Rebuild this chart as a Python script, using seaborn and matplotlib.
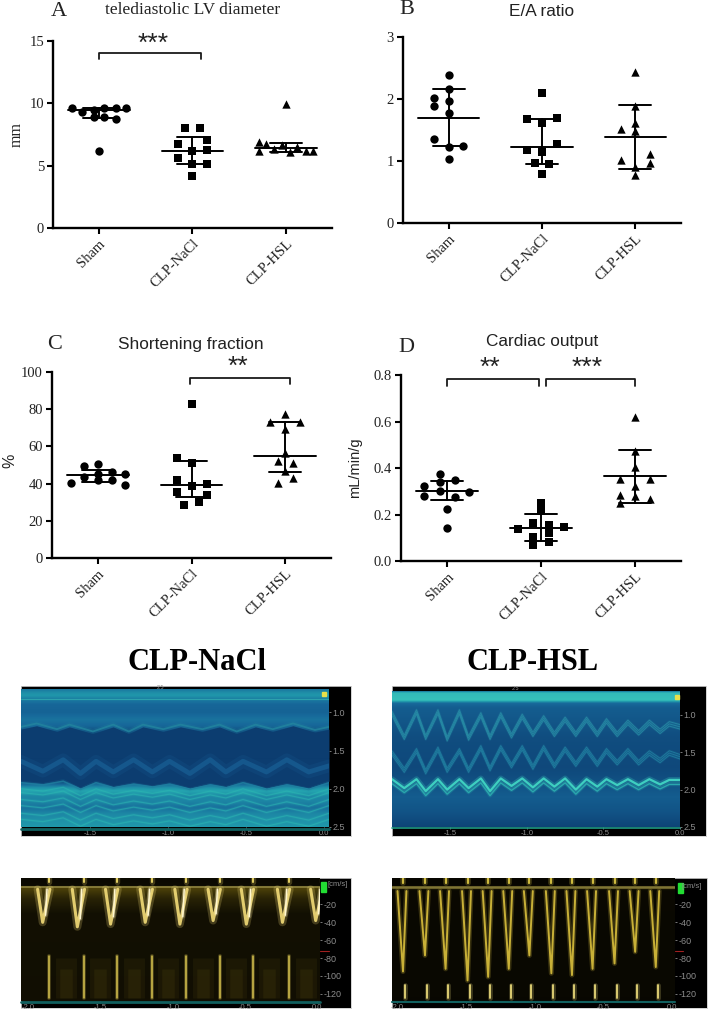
import numpy as np
import matplotlib
matplotlib.use('Agg')
import matplotlib.pyplot as plt
from matplotlib.colors import LinearSegmentedColormap
from matplotlib.patches import Rectangle
import seaborn as sns

sns.set_style('white')
plt.rcParams['font.family'] = ['Liberation Serif', 'DejaVu Serif']

W, H = 709, 1010
groups = ['Sham', 'CLP-NaCl', 'CLP-HSL']
markers = ['o', 's', '^']
marker_sizes = [36, 30, 36]

# A telediastolic LV diameter
a_values = [[9.64, 9.32, 9.48, 9.59, 9.59, 9.59, 8.87, 8.92, 8.71, 6.19],
            [8.06, 8.06, 7.05, 6.70, 6.19, 6.24, 5.65, 5.12, 5.17, 4.21],
            [6.91, 6.72, 6.35, 6.67, 6.11, 6.48, 6.16, 6.21, 6.19, 9.94]]
a_jitter = [[-.29, -.175, -.057, .06, .18, .295, -.057, .06, .18, 0],
            [-.08, .08, .16, -.16, 0, .16, -.16, 0, .16, 0],
            [-.29, -.21, -.13, -.04, .04, .12, .21, .29, -.29, 0]]
a_mean = [9.43, 6.2, 6.45]
a_hi = [9.6, 7.31, 6.83]
a_lo = [8.84, 5.17, 6.1]

# B E/A ratio
b_values = [[2.38, 2.16, 2.02, 1.97, 1.89, 1.78, 1.35, 1.25, 1.23, 1.04],
            [2.09, 1.67, 1.69, 1.62, 1.27, 1.18, 1.15, .96, .95, .79],
            [2.43, 1.88, 1.62, 1.51, 1.48, 1.11, 1.02, .97, .90, .78]]
b_jitter = [[0, 0, -.157, 0, -.157, 0, -.157, .157, 0, 0],
            [0, -.157, .16, 0, .16, -.157, 0, -.08, .08, 0],
            [0, 0, 0, -.157, 0, .157, -.157, .157, 0, 0]]
b_mean = [1.70, 1.23, 1.39]
b_hi = [2.16, 1.68, 1.90]
b_lo = [1.25, .95, .87]

# C shortening fraction
c_values = [[40.2, 49.2, 50.6, 43.6, 45.1, 46.2, 44.9, 41.7, 42.2, 39.0],
            [83.0, 53.7, 51.0, 41.7, 39.7, 38.5, 35.4, 33.8, 29.9, 28.3],
            [77.3, 73.0, 73.3, 69.6, 56.7, 52.4, 51.2, 46.9, 42.9, 40.4]]
c_jitter = [[-.29, -.147, 0, -.147, 0, .147, .295, 0, .147, .295],
            [0, -.157, 0, -.157, .165, 0, -.157, .165, .08, -.08],
            [0, -.157, .16, 0, 0, -.08, .08, 0, .08, -.08]]
c_mean = [44.4, 39.2, 55.1]
c_hi = [47.4, 51.9, 73.3]
c_lo = [41.1, 32.9, 46.2]

# D cardiac output
d_values = [[.375, .348, .341, .321, .302, .295, .278, .274, .225, .142],
            [.248, .216, .162, .156, .136, .148, .119, .102, .08, .067],
            [.618, .472, .404, .351, .351, .321, .282, .278, .268, .249]]
d_jitter = [[-.08, .08, -.08, -.245, -.08, .235, -.245, .08, 0, 0],
            [0, 0, -.08, .08, -.245, .24, .08, -.08, .08, -.08],
            [0, 0, 0, -.16, .157, 0, -.16, 0, .157, -.16]]
d_mean = [.301, .143, .364]
d_hi = [.344, .201, .477]
d_lo = [.262, .087, .249]

# M-mode traces, depth in mm against time in s
nacl_depth = [.70, .74, .78, .83, .90, 1.0, 1.1, 1.18, 1.3, 1.9, 1.98, 2.03, 2.1, 2.17, 2.25, 2.33, 2.42, 2.5]
nacl_level = [.42, .55, .62, .45, .32, .30, .40, .32, .05, .05, .55, .70, .52, .50, .38, .52, .58, .62]
nacl_top_t = [-1.94, -1.84, -1.71, -1.63, -1.48, -1.35, -1.25, -1.16, -1.03, -.92, -.78, -.67, -.56, -.44, -.33, -.20, -.06, .03]
nacl_top_d = [1.22, 1.175, 1.25, 1.19, 1.28, 1.19, 1.28, 1.19, 1.25, 1.19, 1.25, 1.19, 1.28, 1.19, 1.25, 1.175, 1.26, 1.22]
nacl_low_t = [-1.94, -1.80, -1.67, -1.56, -1.46, -1.35, -1.22, -1.10, -.99, -.86, -.73, -.63, -.52, -.37, -.24, -.10, .03]
nacl_low_d = [1.90, 1.93, 1.88, 1.99, 1.90, 1.97, 1.92, 1.96, 1.92, 1.99, 1.93, 1.97, 1.90, 1.99, 1.93, 1.99, 1.90]
nacl_mid_d = [1.64, 1.77, 1.62, 1.80, 1.64, 1.78, 1.62, 1.78, 1.64, 1.80, 1.62, 1.78, 1.64, 1.78, 1.62, 1.78, 1.70]
nacl_echo = [.10, .15, .24, .32, .42, .50]

hsl_depth = [.68, .70, .80, .84, .90, 1.0, 1.3, 1.7, 1.82, 2.1, 2.3, 2.5]
hsl_level = [.40, .82, .86, .34, .26, .24, .16, .13, .16, .26, .20, .10]
hsl_wall_t = [-1.88, -1.80, -1.72, -1.66, -1.58, -1.52, -1.44, -1.38, -1.30, -1.24, -1.17, -1.10, -1.03, -.96, -.89, -.82, -.75, -.68, -.61, -.54, -.48, -.41, -.34, -.27, -.20, -.13, -.07, 0]
hsl_wall_d = [1.86, 1.98, 1.86, 2.02, 1.86, 2.00, 1.86, 1.98, 1.85, 2.02, 1.85, 1.95, 1.85, 1.97, 1.85, 1.96, 1.85, 2.00, 1.86, 1.96, 1.86, 1.94, 1.86, 1.94, 1.86, 1.93, 1.87, 1.87]
hsl_sept_d = [1.45, 1.68, 1.42, 1.70, 1.40, 1.68, 1.42, 1.68, 1.38, 1.66, 1.38, 1.62, 1.38, 1.64, 1.38, 1.62, 1.40, 1.60, 1.40, 1.60, 1.42, 1.58, 1.42, 1.58, 1.45, 1.55, 1.45, 1.5]
hsl_free_d = [.92, 1.24, .90, 1.24, .90, 1.26, .90, 1.25, .94, 1.24, .94, 1.22, .96, 1.20, .98, 1.20, 1.0, 1.2, 1.0, 1.2, 1.02, 1.2, 1.04, 1.18, 1.04, 1.16, 1.06, 1.1]
hsl_echo = [.03, .06, .09]

# Doppler traces, velocity in cm/s against time in s
nacl_beats = [-1.90, -1.66, -1.43, -1.19, -.95, -.72, -.49, -.24, -.01]
nacl_peaks = [-40, -45, -42, -40, -42, -38, -42, -40, -38]
hsl_beats = [-1.98, -1.82, -1.67, -1.51, -1.36, -1.21, -1.06, -.90, -.75, -.60, -.44, -.29, -.14]
hsl_peaks = [-95, -77, -92, -105, -101, -92, -77, -97, -99, -92, -86, -73, -90]
nacl_bg_v = [9.6, 1, 0, -2, -14, -30, -128]
nacl_bg_level = [.08, .10, .50, .50, .30, .14, .13]
hsl_bg_v = [9.6, 1, 0, -4, -128]
hsl_bg_level = [.05, .05, .45, .08, .07]

ultra = LinearSegmentedColormap.from_list('ultra', ['#0a3568', '#17689a', '#22a0ae', '#45d8c4'])
olive = LinearSegmentedColormap.from_list('olive', ['#000000', '#2c2606', '#6b5a0c', '#a08c28'])
tick_labels_t = ['-1.5', '-1.0', '-0.5', '0.0']
tick_labels_d = ['1.0', '1.5', '2.0', '2.5']
tick_labels_v = ['-20', '-40', '-60', '-80', '-100', '-120']


def px_axes(fig, x0, x1, top, bottom):
    return fig.add_axes([x0 / W, 1 - bottom / H, (x1 - x0) / W, (bottom - top) / H])


def fig_text(fig, x, y, s, **kw):
    fig.text(x / W, 1 - y / H, s, ha='center', va='center', **kw)


def scatter_panel(ax, values, jitter, mean, hi, lo, yticks, ticklabels):
    for i in range(3):
        xs = [i + j for j in jitter[i]]
        sns.scatterplot(x=xs, y=values[i], marker=markers[i], color='black', s=marker_sizes[i], linewidth=0, ax=ax, zorder=3, clip_on=False)
        ax.plot([i - .33, i + .33], [mean[i], mean[i]], color='black', lw=1.4)
        ax.plot([i - .17, i + .17], [hi[i], hi[i]], color='black', lw=1.4)
        ax.plot([i - .17, i + .17], [lo[i], lo[i]], color='black', lw=1.4)
        ax.plot([i, i], [lo[i], hi[i]], color='black', lw=1.4)
    ax.set_xlim(-.49, 2.49)
    ax.set_ylim(yticks[0], yticks[-1])
    ax.set_xticks(range(3))
    ax.set_xticklabels(groups, rotation=45, ha='right', rotation_mode='anchor', fontsize=10.5, color='#222222')
    ax.set_yticks(yticks)
    ax.set_yticklabels(ticklabels, fontsize=10.5, color='#222222')
    ax.tick_params(axis='both', length=4.5, width=1.5, color='black', left=True, bottom=True, pad=2)
    sns.despine(ax=ax)
    for side in ['left', 'bottom']:
        ax.spines[side].set_linewidth(1.7)
        ax.spines[side].set_color('black')


def bracket(ax, x0, x1, top, bottom, stars, star_x, star_y):
    ax.plot([x0, x0, x1, x1], [bottom, top, top, bottom], color='#1a1a1a', lw=1.3, clip_on=False)
    ax.text(star_x, star_y, stars, ha='center', va='center', fontsize=19, color='#222222',
            family='Liberation Sans', clip_on=False)


def trace_frame(fig, outer, inner, xlim, ylim, xticks, yticks, xlabels, ylabels):
    back = px_axes(fig, *outer)
    back.set_facecolor('black')
    back.set_xticks([])
    back.set_yticks([])
    for s in back.spines.values():
        s.set_color('#cccccc')
        s.set_linewidth(.6)
    ax = px_axes(fig, *inner)
    ax.set_xlim(*xlim)
    ax.set_ylim(*ylim)
    ax.yaxis.tick_right()
    ax.set_xticks(xticks)
    ax.set_xticklabels(xlabels, fontsize=5.5, color='#8c8c8c', family='Liberation Sans')
    ax.set_yticks(yticks)
    ax.set_yticklabels(ylabels, fontsize=6.5, color='#8c8c8c', family='Liberation Sans')
    ax.tick_params(axis='both', length=1.5, width=.6, color='#8c8c8c', pad=1, right=True, bottom=True, left=False)
    for s in ax.spines.values():
        s.set_visible(False)
    return ax


def level_background(ax, edges, level, xlim, cmap):
    # edges run from the top of the trace to the bottom
    grid = np.linspace(0, 1, 300)
    frac = [(e - edges[0]) / (edges[-1] - edges[0]) for e in edges]
    ax.imshow(np.interp(grid, frac, level)[:, None], cmap=cmap, vmin=0, vmax=1, aspect='auto',
              interpolation='bilinear', origin='upper', extent=[xlim[0], xlim[1], edges[-1], edges[0]], zorder=0)


def soft_line(ax, x, y, color, lw, alpha=1, zorder=2):
    ax.plot(x, y, color=color, lw=lw * 2.6, alpha=.25 * alpha, zorder=zorder, solid_joinstyle='round')
    ax.plot(x, y, color=color, lw=lw, alpha=alpha, zorder=zorder, solid_joinstyle='round')


fig = plt.figure(figsize=(W / 100, H / 100), dpi=100)
fig.patch.set_facecolor('white')

# top scatter panels
ax_a = px_axes(fig, 53, 332, 41, 228)
scatter_panel(ax_a, a_values, a_jitter, a_mean, a_hi, a_lo, [0, 5, 10, 15], ['0', '5', '10', '15'])
bracket(ax_a, 0, 1.09, 14.06, 13.53, '***', .58, 14.75)
ax_a.set_ylabel('mm', fontsize=11.5, color='#222222')
ax_a.yaxis.set_label_coords(-.10, .5)

ax_b = px_axes(fig, 403, 681, 37, 223)
scatter_panel(ax_b, b_values, b_jitter, b_mean, b_hi, b_lo, [0, 1, 2, 3], ['0', '1', '2', '3'])

ax_c = px_axes(fig, 52, 331, 372, 558)
scatter_panel(ax_c, c_values, c_jitter, c_mean, c_hi, c_lo, [0, 20, 40, 60, 80, 100], ['0', '20', '40', '60', '80', '100'])
bracket(ax_c, .987, 2.05, 97, 93.4, '**', 1.5, 103)
ax_c.set_ylabel('%', fontsize=11.5, fontfamily='Liberation Sans', color='#222222')
ax_c.yaxis.set_label_coords(-.125, .52)

ax_d = px_axes(fig, 401, 681, 375, 561)
scatter_panel(ax_d, d_values, d_jitter, d_mean, d_hi, d_lo, [0, .2, .4, .6, .8], ['0.0', '0.2', '0.4', '0.6', '0.8'])
bracket(ax_d, 0, .975, .783, .754, '**', .46, .83)
bracket(ax_d, 1.054, 1.996, .783, .754, '***', 1.49, .83)
ax_d.set_ylabel('mL/min/g', fontsize=10.5, fontfamily='Liberation Sans', color='#222222')
ax_d.yaxis.set_label_coords(-.139, .5)

fig_text(fig, 59, 12, 'A', fontsize=16, color='#222222')
fig_text(fig, 193, 10, 'telediastolic LV diameter', fontsize=12.5, color='#222222')
fig_text(fig, 407, 10, 'B', fontsize=16, color='#222222')
fig_text(fig, 542, 11, 'E/A ratio', fontsize=12.4, family='Liberation Sans', color='#222222')
fig_text(fig, 55, 344, 'C', fontsize=16, color='#222222')
fig_text(fig, 191, 344, 'Shortening fraction', fontsize=12.4, family='Liberation Sans', color='#222222')
fig_text(fig, 406, 347, 'D', fontsize=16, color='#222222')
fig_text(fig, 542, 341, 'Cardiac output', fontsize=12.4, family='Liberation Sans', color='#222222')
fig_text(fig, 197, 662, 'CLP-NaCl', fontsize=22, fontweight='bold', color='black')
fig_text(fig, 533, 663, 'CLP-HSL', fontsize=22, fontweight='bold', color='black')

# M-mode CLP-NaCl
xlim = (-1.94, .03)
ylim = (2.5, .694)
ax = trace_frame(fig, (21, 351, 686, 836), (21, 329, 689, 827), xlim, ylim,
                 [-1.5, -1.0, -.5, 0], [1, 1.5, 2, 2.5], tick_labels_t, tick_labels_d)
level_background(ax, nacl_depth, nacl_level, xlim, ultra)
ax.fill_between(nacl_top_t, nacl_top_d, 1.6, color='#0c3d70', lw=0, zorder=1)
ax.fill_between(nacl_low_t, 1.6, nacl_low_d, color='#0c3d70', lw=0, zorder=1)
soft_line(ax, nacl_low_t, nacl_mid_d, '#15578c', 3.5)
soft_line(ax, nacl_top_t, [d - .03 for d in nacl_top_d], '#22869f', 1.3, .8)
soft_line(ax, nacl_low_t, [d + .02 for d in nacl_low_d], '#1f7f9f', 1.1, .8)
for shift in nacl_echo:
    soft_line(ax, nacl_low_t, [d + shift for d in nacl_low_d], '#2cb7b3', .9, .55)
ax.plot(xlim, [.83, .83], color='#3fc9bb', lw=.8, alpha=.5, zorder=2)
ax.plot([0], [.76], marker='s', ms=2.5, color='#e6e04a', zorder=4)
ax.axhline(2.52, color='#11605f', lw=2, clip_on=False)
ax.set_xlim(*xlim)
ax.set_ylim(*ylim)
fig_text(fig, 160, 687.5, '2.5', fontsize=4, color='#8c8c8c', family='Liberation Sans')

# M-mode CLP-HSL
xlim = (-1.88, 0)
ylim = (2.5, .68)
ax = trace_frame(fig, (392, 706, 686, 836), (392, 680, 691, 827), xlim, ylim,
                 [-1.5, -1.0, -.5, 0], [1, 1.5, 2, 2.5], tick_labels_t, tick_labels_d)
level_background(ax, hsl_depth, hsl_level, xlim, ultra)
soft_line(ax, hsl_wall_t, hsl_wall_d, '#3ecfc0', 1.6, zorder=3)
soft_line(ax, hsl_wall_t, [d + .06 for d in hsl_wall_d], '#2aa7ad', 1.0, zorder=3)
for shift in hsl_echo:
    soft_line(ax, hsl_wall_t, [d + shift for d in hsl_sept_d], '#2387a6', .7, .7)
    soft_line(ax, hsl_wall_t, [d + shift for d in hsl_free_d], '#2a93aa', .7, .7)
ax.plot([-.017], [.76], marker='s', ms=2.5, color='#e6e04a', zorder=4)
ax.axhline(2.52, color='#1f9a86', lw=1.2, clip_on=False)
ax.set_xlim(*xlim)
ax.set_ylim(*ylim)
fig_text(fig, 515, 688, '2.5', fontsize=4, color='#8c8c8c', family='Liberation Sans')

# Doppler CLP-NaCl
xlim = (-2.05, .02)
ylim = (-128, 9.6)
ax = trace_frame(fig, (21, 351, 878, 1008), (21, 320, 878, 1001), xlim, ylim,
                 [-2, -1.5, -1, -.5, 0], [-20, -40, -60, -80, -100, -120],
                 ['-2.0'] + tick_labels_t, tick_labels_v)
level_background(ax, nacl_bg_v, nacl_bg_level, xlim, olive)
ax.axhline(0, color='#8f8440', lw=1.2, zorder=2)
ax.axhline(-72, xmin=1, xmax=1.03, color='#a02020', lw=.8, clip_on=False)
for t, peak in zip(nacl_beats, nacl_peaks):
    ax.plot([t + .16, t + .16], [-80, -125], color='#6e5f14', lw=15, alpha=.12, zorder=1, solid_capstyle='butt')
    ax.plot([t + .16, t + .16], [-92, -125], color='#6e5f14', lw=9, alpha=.14, zorder=1, solid_capstyle='butt')
    soft_line(ax, [t - .035, t, t + .05], [-3, peak, -3], '#f3dc78', 2.2, .9)
    soft_line(ax, [t + .03, t + .02], [-3, peak * .8], '#fff6cf', 1.1)
    soft_line(ax, [t + .045, t + .045], [-78, -125], '#d9c44f', 1.1)
    soft_line(ax, [t + .045, t + .045], [5, 9.6], '#e0cc60', 1.5)
ax.axhline(-129, color='#11605f', lw=2, clip_on=False)
ax.set_xlim(*xlim)
ax.set_ylim(*ylim)
fig_text(fig, 338, 884, '[cm/s]', fontsize=5.5, color='#8c8c8c', family='Liberation Sans')
fig.add_artist(Rectangle((321 / W, 1 - 892 / H), 4.5 / W, 10 / H, transform=fig.transFigure, color='#22dd33'))

# Doppler CLP-HSL
xlim = (-2.04, .02)
ax = trace_frame(fig, (392, 707, 878, 1008), (392, 675, 878, 1001), xlim, ylim,
                 [-2, -1.5, -1, -.5, 0], [-20, -40, -60, -80, -100, -120],
                 ['-2.0'] + tick_labels_t, tick_labels_v)
level_background(ax, hsl_bg_v, hsl_bg_level, xlim, olive)
ax.axhline(0, color='#7f7535', lw=1.8, zorder=2)
ax.axhline(-72, xmin=1, xmax=1.03, color='#a02020', lw=.8, clip_on=False)
for t, peak in zip(hsl_beats, hsl_peaks):
    soft_line(ax, [t - .02, t + .02, t + .045], [-5, peak, -5], '#d9bf3c', 1.4, .9)
    soft_line(ax, [t + .035, t + .035], [-110, -125], '#e8d878', 1.3)
    soft_line(ax, [t + .02, t + .02], [4, 9.6], '#cdb93f', 1.6)
ax.axhline(-129, color='#11605f', lw=1.5, clip_on=False)
ax.set_xlim(*xlim)
ax.set_ylim(*ylim)
fig_text(fig, 692, 887, '[cm/s]', fontsize=5.5, color='#8c8c8c', family='Liberation Sans')
fig.add_artist(Rectangle((678 / W, 1 - 893 / H), 4.5 / W, 10 / H, transform=fig.transFigure, color='#22dd33'))

fig.savefig('out.png', dpi=100)
